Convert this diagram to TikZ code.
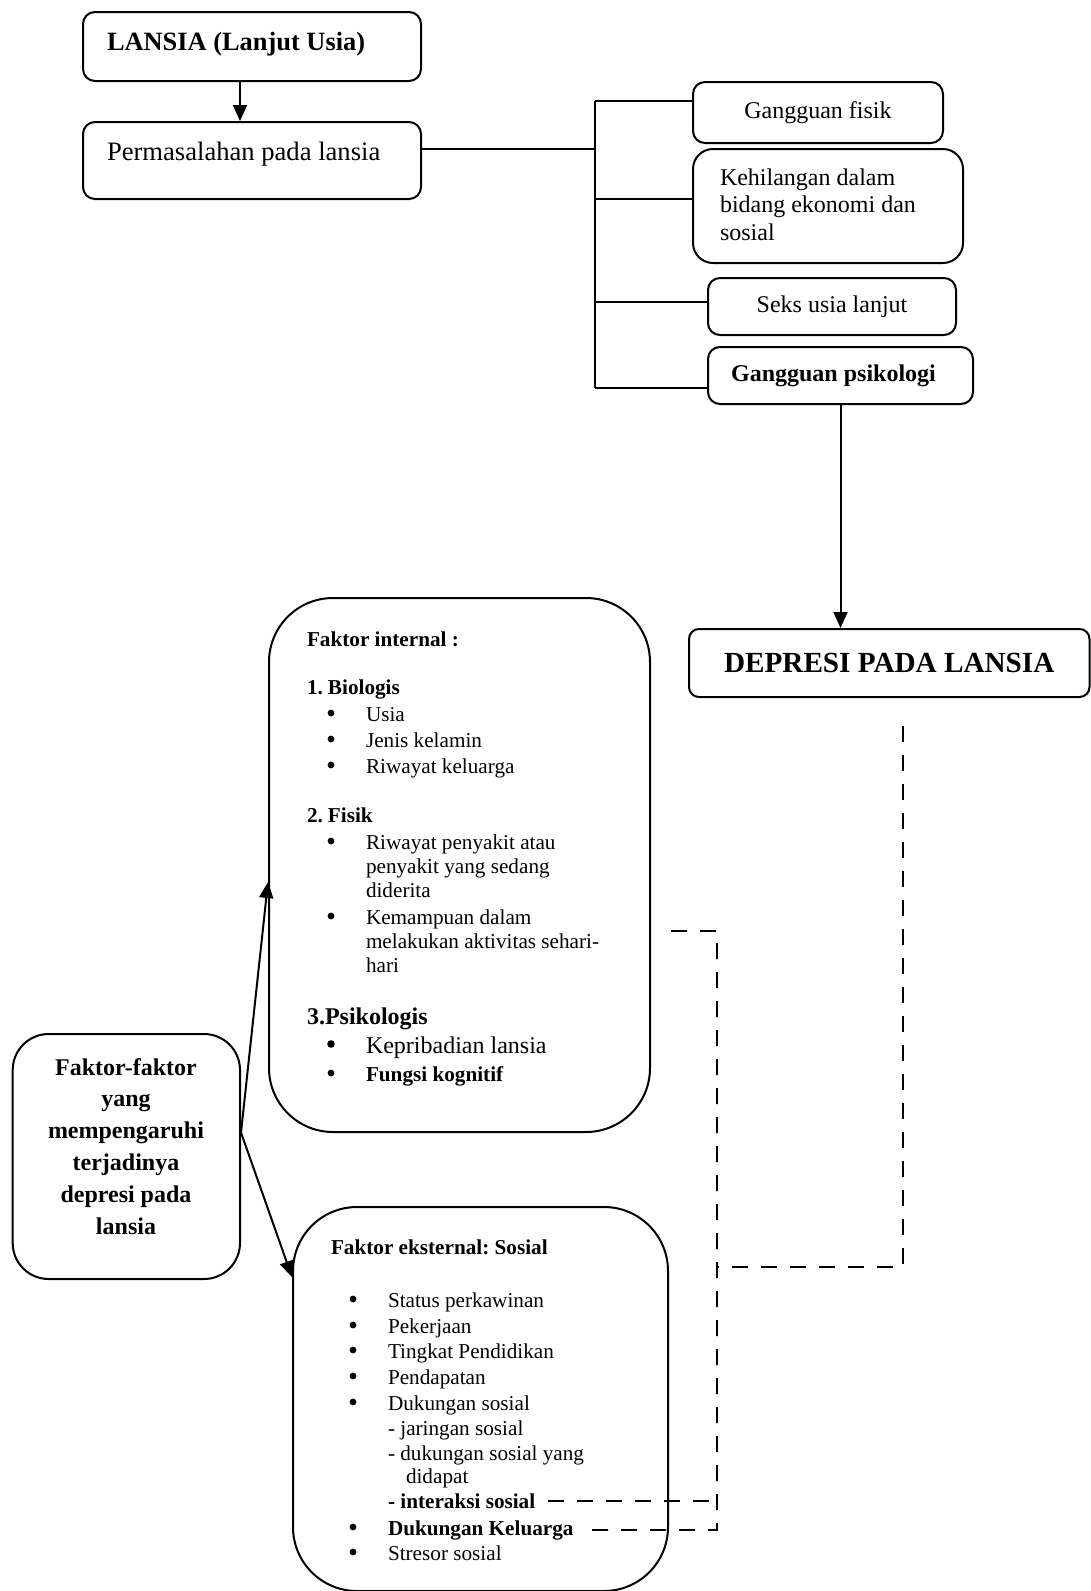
\documentclass[tikz,border=0pt]{standalone}
\usepackage{fontspec}
\setmainfont{Liberation Serif}
\usetikzlibrary{arrows.meta,fit}

\newcommand{\setfs}[1]{\fontsize{#1}{#1}\selectfont}
\frenchspacing

\tikzset{
  box/.style={draw, line width=1pt, inner sep=0pt},
  txt/.style={inner sep=0pt, anchor=base west},
  ctr/.style={inner sep=0pt, anchor=base},
  lbl/.style={inner sep=0pt},
  dot/.style={circle, fill, inner sep=0pt, minimum size=3.4pt},
  dline/.style={line width=0.9pt, dash pattern=on 8pt off 6.5pt},
}

\begin{document}
\begin{tikzpicture}[x=0.5pt, y=-0.5pt, line width=1pt, >={Triangle[length=8pt,width=7pt]}]

  \useasboundingbox (0,0) rectangle (1091,1591);

  % top boxes
  \node[box, rounded corners=6pt, fit={(83,12) (421,81)}] (lansia) {};
  \node[txt, font=\bfseries\setfs{13.2}] (lansiaT) at (106,50) {LANSIA (Lanjut Usia)};
  \node[box, rounded corners=6pt, fit={(83,122) (421,199)}] (perm) {};
  \node[txt, font=\setfs{13.3}] (permT) at (106,160) {Permasalahan pada lansia};
  \draw[->] ([xshift=-6pt]lansia.south) -- ([xshift=-6pt]perm.north);

  \node[box, rounded corners=6pt, fit={(693,82) (943,143)}] (fisik) {};
  \node[lbl, font=\setfs{12}] (fisikT) at (fisik) {Gangguan fisik};
  \node[box, rounded corners=10pt, fit={(693,149) (963,263)}] (ekonomi) {};
  \foreach \t [count=\i] in {Kehilangan dalam, bidang ekonomi dan, sosial}
    \node[txt, font=\setfs{12}] (ekonomi-\i) at (719,{157.5+27.5*\i}) {\t};
  \node[box, rounded corners=6pt, fit={(708,278) (956,335)}] (seks) {};
  \node[lbl, font=\setfs{12}] (seksT) at (seks) {Seks usia lanjut};
  \node[box, rounded corners=6pt, fit={(708,347) (973,404)}] (psiko) {};
  \node[lbl, font=\bfseries\setfs{12}, xshift=-3.5pt] (psikoT) at (psiko) {Gangguan psikologi};

  \coordinate (b1) at (595,101);
  \coordinate (b2) at (595,199);
  \coordinate (b3) at (595,302);
  \coordinate (b4) at (595,388);
  \coordinate (bp) at (595,149);
  \draw (b1) -- (b4);
  \draw (perm.east |- bp) -- (bp);
  \draw (b1) -- (b1 -| fisik.west);
  \draw (b2) -- (b2 -| ekonomi.west);
  \draw (b3) -- (b3 -| seks.west);
  \draw (b4) -- (b4 -| psiko.west);

  \node[box, rounded corners=5pt, fit={(689,629) (1089.5,697)}] (depresi) {};
  \node[lbl, font=\bfseries\setfs{14.6}] (depresiT) at (depresi) {DEPRESI PADA LANSIA};
  \draw[->] (psiko.south) -- (psiko.south |- depresi.north);

  % faktor internal
  \node[box, rounded corners=32pt, fit={(269,598) (650,1132)}] (internal) {};
  \node[txt, font=\bfseries\setfs{10.6}] (intHead) at (306,646) {Faktor internal :};
  \node[txt, font=\bfseries\setfs{10.6}] (bio) at (306,694) {\makebox[10.5pt][l]{1.}Biologis};
  \foreach \y/\t in {721/Usia, 747/Jenis kelamin, 773/Riwayat keluarga} {
    \node[dot] (bio-b\y) at (331,\y-8) {};
    \node[txt, font=\setfs{10.6}] (bio-\y) at (365,\y) {\t};
  }
  \node[txt, font=\bfseries\setfs{10.6}] (fis) at (306,822) {\makebox[10.5pt][l]{2.}Fisik};
  \foreach \y in {849,924}
    \node[dot] (fis-b\y) at (331,\y-8) {};
  \foreach \y/\t in {849/Riwayat penyakit atau, 873/penyakit yang sedang, 897/diderita,
      924/Kemampuan dalam, 948/melakukan aktivitas sehari-, 972/hari}
    \node[txt, font=\setfs{10.6}] (fis-\y) at (365,\y) {\t};
  \node[txt, font=\bfseries\setfs{12}] (psi) at (306,1024) {3.Psikologis};
  \node[dot, minimum size=3.8pt] (psi-b1) at (331,1044) {};
  \node[txt, font=\setfs{12}] (psi-1) at (365,1053) {Kepribadian lansia};
  \node[dot] (psi-b2) at (331,1073) {};
  \node[txt, font=\bfseries\setfs{10.6}] (psi-2) at (365,1081) {Fungsi kognitif};

  % faktor eksternal
  \node[box, rounded corners=32pt, fit={(293,1207) (668,1591)}] (external) {};
  \node[txt, font=\bfseries\setfs{10.6}] (extHead) at (330,1254) {Faktor eksternal: Sosial};
  \foreach \y/\t in {1307/Status perkawinan, 1333/Pekerjaan, 1358/Tingkat Pendidikan,
      1384/Pendapatan, 1410/Dukungan sosial, 1560/Stresor sosial} {
    \node[dot] (sos-b\y) at (353,\y-8) {};
    \node[txt, font=\setfs{10.6}] (sos-\y) at (387,\y) {\t};
  }
  \node[txt, font=\setfs{10.6}] (jaringan) at (387,1435) {- jaringan sosial};
  \node[txt, font=\setfs{10.6}] (didapat) at (387,1460) {- dukungan sosial yang};
  \node[txt, font=\setfs{10.6}] (didapat2) at (405,1483) {didapat};
  \node[txt, font=\bfseries\setfs{10.6}] (inter) at (387,1508) {- interaksi sosial};
  \node[dot] (kel-b) at (353,1527) {};
  \node[txt, font=\bfseries\setfs{10.6}] (keluarga) at (387,1535) {Dukungan Keluarga};

  % faktor-faktor
  \node[box, rounded corners=18pt, fit={(12.7,1034) (240,1279)}] (faktor) {};
  \foreach \t [count=\i] in {Faktor-faktor, yang, mempengaruhi, terjadinya, depresi pada, lansia}
    \node[ctr, font=\bfseries\setfs{12}] (faktor-\i) at (126,{1043.2+31.8*\i}) {\t};

  \coordinate (fk) at ([yshift=12pt]faktor.east);
  \draw[->] (fk) -- ([yshift=-8.5pt]internal.west);
  \draw[->] (fk) -- ([yshift=61pt]external.west);

  % dashed links
  \coordinate (d1) at (903,726);
  \coordinate (d2) at (903,1267);
  \coordinate (d3) at (717,1267);
  \draw[dline] (d1) -- (d2) -- (d3);
  \coordinate (e1) at (671,931);
  \coordinate (e2) at (717,931);
  \coordinate (e3) at (717,1530);
  \draw[dline, shorten >=5pt] (e1) -- (e2) -- (e3) -- (keluarga.east);
  \draw[dline, shorten <=6pt] (inter.east) -- (inter.east -| e2);

\end{tikzpicture}
\end{document}
